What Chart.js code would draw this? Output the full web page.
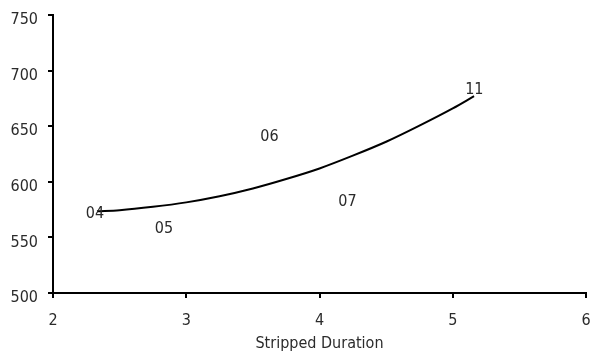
<!DOCTYPE html>
<html>
<head>
<meta charset="utf-8">
<script src="https://cdn.jsdelivr.net/npm/chart.js@4"></script>
<style>
  html, body { margin: 0; padding: 0; background: #fff; }
  #wrap { width: 592px; height: 356px; }
</style>
</head>
<body>
<div id="wrap"><canvas id="durationChart" width="592" height="356"></canvas></div>
<script>
const FONT = "'Liberation Sans Narrow', 'Arial Narrow', 'DejaVu Sans Condensed', sans-serif";

// fitted curve
const curveX = [2.33, 2.5, 2.75, 3.0, 3.25, 3.5, 3.75, 4.0, 4.25, 4.5, 4.75, 5.0, 5.16];
const curveY = [573.5, 574.5, 577.5, 581.5, 587, 594, 602.5, 612, 623.5, 636, 650.5, 666, 677];

// labelled points
const pointLabels = ["04", "05", "06", "07", "11"];
const pointX = [2.315, 2.833, 3.624, 4.21, 5.162];
const pointY = [571, 558, 640.7, 581.8, 682.6];

const xTicks = [2, 3, 4, 5, 6];
const yTicks = [500, 550, 600, 650, 700, 750];

// draws the point names as text at their data positions
const textPoints = {
  id: "textPoints",
  afterDatasetsDraw(chart) {
    const { ctx, scales } = chart;
    ctx.save();
    ctx.font = "16px " + FONT;
    ctx.fillStyle = "#2b2b2b";
    ctx.textAlign = "center";
    ctx.textBaseline = "middle";
    pointLabels.forEach((txt, i) => {
      ctx.fillText(txt, scales.x.getPixelForValue(pointX[i]), scales.y.getPixelForValue(pointY[i]));
    });
    ctx.restore();
  }
};

const ctx = document.getElementById("durationChart").getContext("2d");
new Chart(ctx, {
  type: "scatter",
  data: {
    datasets: [
      {
        label: "curve",
        data: curveX.map((x, i) => ({ x, y: curveY[i] })),
        showLine: true,
        borderColor: "#000",
        borderWidth: 2,
        pointRadius: 0,
        cubicInterpolationMode: "monotone",
        fill: false,
      },
      {
        label: "points",
        data: pointX.map((x, i) => ({ x, y: pointY[i] })),
        pointRadius: 0,
        showLine: false,
      }
    ]
  },
  options: {
    responsive: false,
    animation: false,
    layout: { padding: { top: 15, right: 6, left: 0, bottom: 0 } },
    plugins: {
      legend: { display: false },
      tooltip: { enabled: false }
    },
    scales: {
      x: {
        type: "linear",
        min: 2,
        max: 6,
        afterBuildTicks: s => { s.ticks = xTicks.map(v => ({ value: v })); },
        afterFit: s => { s.height = 63; s.paddingLeft = 0; s.paddingRight = 0; },
        grid: { drawOnChartArea: false, drawTicks: true, tickLength: 5, color: "#000", lineWidth: 2 },
        border: { display: true, color: "#000", width: 2 },
        ticks: { color: "#2b2b2b", padding: 13, font: { family: FONT, size: 16 }, maxRotation: 0 },
        title: {
          display: true,
          text: "Stripped Duration",
          color: "#2b2b2b",
          font: { family: FONT, size: 16 },
          padding: { top: 2, bottom: 3 }
        }
      },
      y: {
        type: "linear",
        min: 500,
        max: 750,
        afterBuildTicks: s => { s.ticks = yTicks.map(v => ({ value: v })); },
        afterFit: s => { s.width = 53; s.paddingTop = 0; s.paddingBottom = 0; },
        grid: { drawOnChartArea: false, drawTicks: true, tickLength: 5, color: "#000", lineWidth: 2 },
        border: { display: true, color: "#000", width: 2 },
        ticks: { color: "#2b2b2b", padding: 10, labelOffset: 5, font: { family: FONT, size: 16 } }
      }
    }
  },
  plugins: [textPoints]
});
</script>
</body>
</html>
